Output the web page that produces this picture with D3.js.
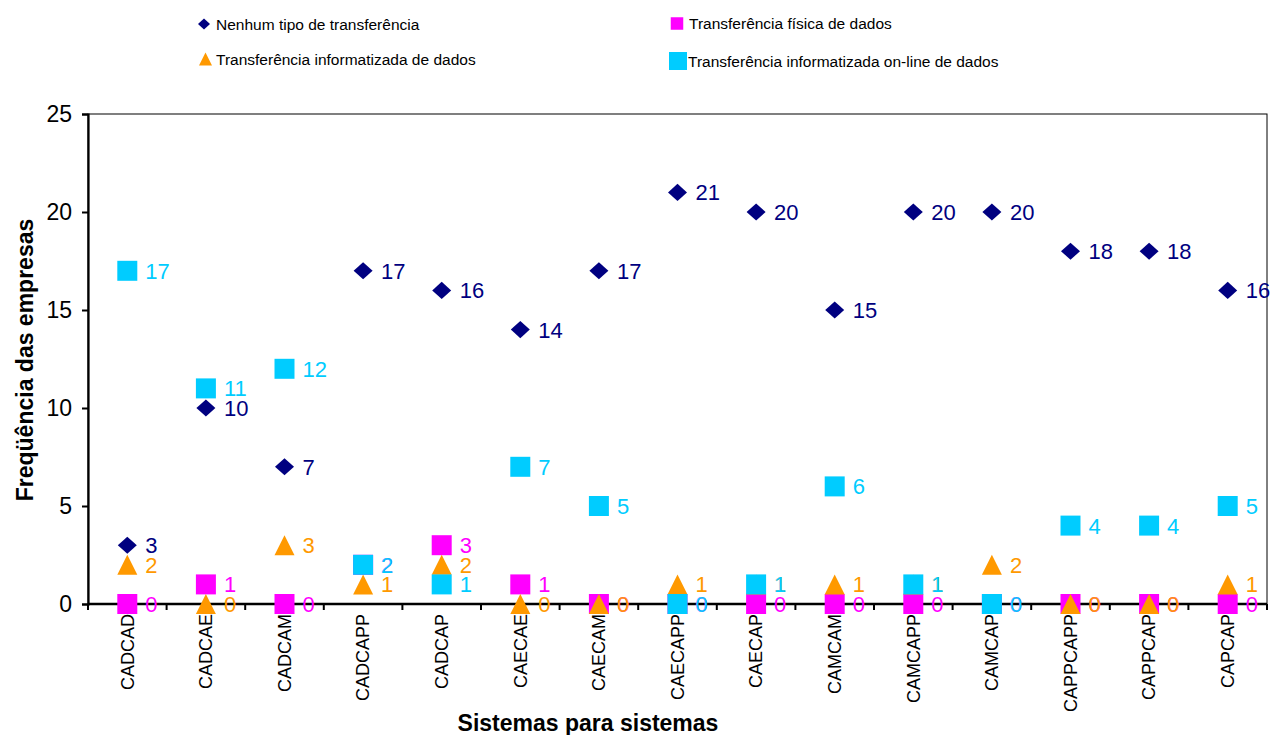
<!DOCTYPE html>
<html>
<head>
<meta charset="utf-8">
<script src="https://cdn.jsdelivr.net/npm/d3@7"></script>
<style>
  html, body { margin: 0; padding: 0; background: #fff; }
  svg { display: block; font-family: Arial, "Liberation Sans", sans-serif; }
</style>
</head>
<body>
<svg id="chart" width="1271" height="735"></svg>
<script>
// Categories (system-to-system pairs)
const categories = ["CADCAD", "CADCAE", "CADCAM", "CADCAPP", "CADCAP", "CAECAE", "CAECAM",
  "CAECAPP", "CAECAP", "CAMCAM", "CAMCAPP", "CAMCAP", "CAPPCAPP", "CAPPCAP", "CAPCAP"];

// Number of companies per kind of data transfer
const nenhum      = [3, 10, 7, 17, 16, 14, 17, 21, 20, 15, 20, 20, 18, 18, 16];
const fisica      = [0, 1, 0, 2, 3, 1, 0, 0, 0, 0, 0, 0, 0, 0, 0];
const informat    = [2, 0, 3, 1, 2, 0, 0, 1, 1, 1, 1, 2, 0, 0, 1];
const online      = [17, 11, 12, 2, 1, 7, 5, 0, 1, 6, 1, 0, 4, 4, 5];

const seriesNames = [
  "Nenhum tipo de transferência",
  "Transferência física de dados",
  "Transferência informatizada de dados",
  "Transferência informatizada on-line de dados"
];
const yTicks = [0, 5, 10, 15, 20, 25];

const series = [
  { name: seriesNames[0], values: nenhum,   color: "#000080", shape: "diamond" },
  { name: seriesNames[1], values: fisica,   color: "#FF00FF", shape: "square" },
  { name: seriesNames[2], values: informat, color: "#FF9900", shape: "triangle" },
  { name: seriesNames[3], values: online,   color: "#00CCFF", shape: "square" }
];

const svg = d3.select("#chart");
const plot = { left: 88, right: 1267, top: 114, bottom: 604 };

const x = d3.scaleBand().domain(categories).range([plot.left, plot.right]).padding(0);
const y = d3.scaleLinear().domain([0, 25]).range([plot.bottom, plot.top]);
const cx = c => x(c) + x.bandwidth() / 2;

// Marker path generators
function markerPath(shape, s) {
  if (shape === "diamond") {
    const w = s * 0.5, h = s * 0.45;
    return `M0,${-h}L${w},0L0,${h}L${-w},0Z`;
  }
  if (shape === "triangle") {
    const w = s * 0.5, h = s * 0.5;
    return `M0,${-h}L${w},${h}L${-w},${h}Z`;
  }
  const h = s / 2;
  return `M${-h},${-h}H${h}V${h}H${-h}Z`;
}

// Plot frame (thin top / right edges)
svg.append("rect")
  .attr("x", plot.left).attr("y", plot.top)
  .attr("width", plot.right - plot.left).attr("height", plot.bottom - plot.top)
  .attr("fill", "none").attr("stroke", "#000").attr("stroke-width", 1);

// Y axis
const yAxis = svg.append("g")
  .attr("transform", `translate(${plot.left},0)`)
  .call(d3.axisLeft(y).tickValues(yTicks).tickSize(6).tickPadding(10).tickFormat(d3.format("d")));
yAxis.select(".domain").attr("stroke", "#000").attr("stroke-width", 2.2);
yAxis.selectAll(".tick line").attr("stroke", "#000").attr("stroke-width", 2);
yAxis.selectAll(".tick text")
  .attr("font-size", 23).attr("fill", "#000")
  .attr("font-family", "Arial, 'Liberation Sans', sans-serif");

// X axis: ticks sit on the boundaries between categories
const xAxisG = svg.append("g").attr("transform", `translate(0,${plot.bottom})`);
xAxisG.append("line")
  .attr("x1", plot.left).attr("x2", plot.right)
  .attr("stroke", "#000").attr("stroke-width", 2.5);
const boundaries = categories.map(c => x(c)).concat([plot.right]);
xAxisG.selectAll("line.tk").data(boundaries).enter().append("line")
  .attr("class", "tk")
  .attr("x1", d => d).attr("x2", d => d)
  .attr("y1", 0).attr("y2", 6)
  .attr("stroke", "#000").attr("stroke-width", 2);
xAxisG.selectAll("text.cat").data(categories).enter().append("text")
  .attr("class", "cat")
  .attr("transform", d => `translate(${cx(d)},10) rotate(-90)`)
  .attr("text-anchor", "end")
  .attr("dy", "0.35em")
  .attr("font-size", 18)
  .attr("fill", "#000")
  .text(d => d);

// Axis titles
svg.append("text")
  .attr("transform", `translate(33,360) rotate(-90)`)
  .attr("text-anchor", "middle")
  .attr("font-size", 23).attr("font-weight", "bold").attr("fill", "#000")
  .text("Freqüência das empresas");
svg.append("text")
  .attr("x", 588).attr("y", 731)
  .attr("text-anchor", "middle")
  .attr("font-size", 23).attr("font-weight", "bold").attr("fill", "#000")
  .text("Sistemas para sistemas");

// Markers
const markerSize = { diamond: 19, square: 20, triangle: 20 };
series.forEach(s => {
  svg.append("g").selectAll("path")
    .data(s.values.map((v, i) => ({ c: categories[i], v })))
    .enter().append("path")
    .attr("transform", d => `translate(${cx(d.c)},${y(d.v)})`)
    .attr("d", markerPath(s.shape, markerSize[s.shape]))
    .attr("fill", s.color);
});

// Value labels
series.forEach(s => {
  svg.append("g").selectAll("text")
    .data(s.values.map((v, i) => ({ c: categories[i], v })))
    .enter().append("text")
    .attr("x", d => cx(d.c) + 18)
    .attr("y", d => y(d.v))
    .attr("dy", "0.36em")
    .attr("font-size", 22)
    .attr("fill", s.color)
    .text(d => d.v);
});

// Legend
const legendItems = [
  { s: series[0], mx: 204, my: 24, size: 12, tx: 216 },
  { s: series[1], mx: 677, my: 23.5, size: 12.5, tx: 689 },
  { s: series[2], mx: 205.5, my: 59, size: 13, tx: 216 },
  { s: series[3], mx: 678, my: 61, size: 18, tx: 688 }
];
const legend = svg.append("g");
legendItems.forEach(it => {
  legend.append("path")
    .attr("transform", `translate(${it.mx},${it.my})`)
    .attr("d", markerPath(it.s.shape, it.size))
    .attr("fill", it.s.color);
  legend.append("text")
    .attr("x", it.tx).attr("y", it.my)
    .attr("dy", "0.36em")
    .attr("font-size", 15.5).attr("fill", "#000")
    .text(it.s.name);
});
</script>
</body>
</html>
